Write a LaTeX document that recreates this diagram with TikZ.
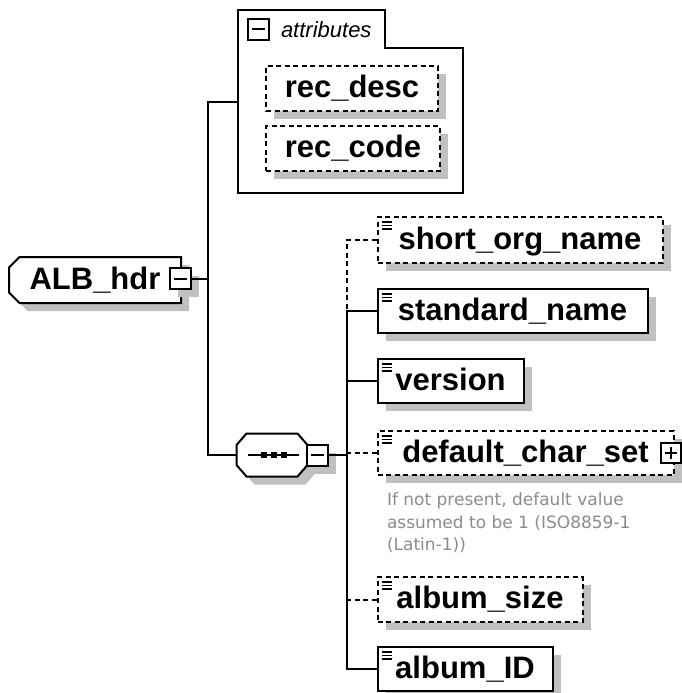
\documentclass[tikz,border=0pt]{standalone}
\usepackage{fontspec}
\setmainfont{Liberation Sans}
\newfontfamily\notefont{DejaVu Sans}
\usetikzlibrary{shapes,shadows,positioning}
\definecolor{shadowgray}{RGB}{192,192,192}
\definecolor{notegray}{RGB}{140,140,140}

\begin{document}
\begin{tikzpicture}[x=1pt, y=-1pt, line width=2pt,
    optline/.style={dash pattern=on 5pt off 3.5pt},
    boxshadow/.style={general shadow={fill=shadowgray, shadow xshift=8pt, shadow yshift=-8pt}},
    namefont/.style={font=\bfseries\fontsize{31}{36}\selectfont, text height=23pt, text depth=5pt},
    root/.style={chamfered rectangle, chamfered rectangle corners={north west,south west}, chamfered rectangle xsep=7pt, draw, fill=white, boxshadow, inner sep=0pt, minimum width=172pt, minimum height=46pt, namefont},
    elem/.style={rectangle, draw, fill=white, boxshadow, anchor=west, inner sep=0pt, minimum height=44pt, namefont,
        path picture={\foreach \dy in {5,8.5,12} \draw[solid, line width=1.2pt] ([xshift=4pt,yshift=-\dy pt]path picture bounding box.north west) -- ++(10pt,0pt);}},
    optelem/.style={elem, optline},
    attrbox/.style={rectangle, draw, fill=white, optline, boxshadow, inner sep=0pt, minimum height=45pt, namefont},
    toggle/.style={rectangle, draw, fill=white, inner sep=0pt, minimum size=21pt,
        path picture={\draw ([xshift=4pt]path picture bounding box.west) -- ([xshift=-4pt]path picture bounding box.east);}},
    expand/.style={rectangle, draw, fill=white, inner sep=0pt, minimum size=20pt,
        path picture={\draw ([xshift=4pt]path picture bounding box.west) -- ([xshift=-4pt]path picture bounding box.east);
                      \draw ([yshift=4pt]path picture bounding box.south) -- ([yshift=-4pt]path picture bounding box.north);}},
    seqbox/.style={rectangle, inner sep=0pt, minimum width=69pt, minimum height=41pt},
    note/.style={anchor=north west, inner sep=0pt, align=left, text=notegray, font=\notefont\fontsize{17}{22.5}\selectfont},
    line/.style={draw}]

    \useasboundingbox (0,0) rectangle (681,693);

    \node [root] (hdr) at (95,280) {ALB\_hdr\hspace{15pt}};
    \node [toggle, boxshadow] (hdrtog) at (180.5,278.5) {};

    \draw (238,193) -- (238,10) -- (385,10) -- (385,48) -- (463,48) -- (463,193) -- cycle;
    \node [toggle] (attrtog) at (258.5,29.5) {};
    \node [right=10pt of attrtog, inner sep=0pt, font=\itshape\fontsize{22}{26}\selectfont] (attrlabel) {attributes};
    \node [attrbox, minimum width=172pt] (recdesc) at (352,88.5) {rec\_desc};
    \node [attrbox, minimum width=174pt] (reccode) at (353,148.5) {rec\_code};

    \node [seqbox] (seq) at (272,455) {};
    \filldraw [fill=white, boxshadow] ([yshift=10pt]seq.west) -- ([xshift=10pt]seq.north west) -- ([xshift=-10pt]seq.north east)
        -- ([yshift=10pt]seq.east) -- ([yshift=-10pt]seq.east) -- ([xshift=-10pt]seq.south east)
        -- ([xshift=10pt]seq.south west) -- ([yshift=-10pt]seq.west) -- cycle;
    \draw ([xshift=11pt]seq.west) -- ([xshift=-9pt]seq.east);
    \foreach \dx in {-8.5,1.5,11.5}
        \fill ([xshift=\dx pt]seq.center) +(-3pt,-3pt) rectangle +(3pt,3pt);
    \node [toggle, boxshadow] (seqtog) at (317,455) {};

    \node [optelem, minimum width=285pt, minimum height=46pt] (short) at (376.5,240) {short\_org\_name};
    \node [elem, minimum width=270pt] (standard) at (376.5,311) {standard\_name};
    \node [elem, minimum width=146pt] (version) at (376.5,381) {version};
    \node [optelem, minimum width=296pt] (defcs) at (376.5,453) {default\_char\_set};
    \node [expand] (defcstog) at (670.5,452.5) {};
    \node [note] (defnote) at (386,492) {If not present, default value\\assumed to be 1 (ISO8859-1\\(Latin-1))};
    \node [optelem, minimum width=205pt, minimum height=45pt] (albsize) at (376.5,599.5) {album\_size};
    \node [elem, minimum width=175pt] (albid) at (376.5,669) {album\_ID};

    \coordinate (fork) at (208,278.5);
    \coordinate (attrin) at (238,102);
    \coordinate (spine) at (346.5,0);

    \path [line] (hdrtog.east) -- (fork);
    \path [line] (attrin) -| (fork);
    \path [line] (fork) |- (seq.west);
    \path [line] (seqtog.east) -- (seqtog.east -| spine);
    \path [line, optline] (short.west) -| (standard.west -| spine);
    \path [line] (standard.west) -| (albid.west -| spine) -- (albid.west);
    \path [line] (version.west) -- (version.west -| spine);
    \path [line, optline] (defcs.west) -- (defcs.west -| spine);
    \path [line, optline] (albsize.west) -- (albsize.west -| spine);

\end{tikzpicture}
\end{document}
